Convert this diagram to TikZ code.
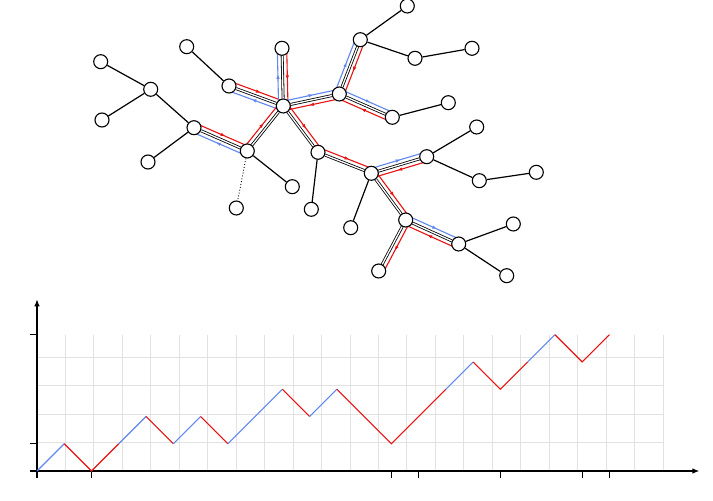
\documentclass[tikz,border=0pt]{standalone}
\usetikzlibrary{calc,arrows.meta,decorations.markings}
\definecolor{wblue}{RGB}{95,135,240}
\definecolor{wred}{RGB}{232,18,18}
\definecolor{gridgray}{RGB}{226,226,226}
\pgfdeclarelayer{bg}
\pgfsetlayers{bg,main}
\tikzset{
  vert/.style={circle,draw=black,fill=white,line width=1.1pt,minimum size=14pt,inner sep=0pt},
  plainedge/.style={draw=black,line width=1.2pt},
  dottededge/.style={draw=black,line width=0.9pt,dotted},
  dbledge/.style={draw=black,line width=0.8pt,double=white,double distance=1.3pt},
  walkline/.style={line width=1.1pt,postaction={decorate},
    decoration={markings,mark=at position 0.55 with {\arrow{Latex[length=4.5pt,width=3.6pt]}}}},
  gridline/.style={draw=gridgray,line width=0.9pt},
  axisline/.style={draw=black,line width=1.2pt},
  ticks/.style={draw=black,line width=1.2pt},
  latline/.style={line width=1.1pt,line join=miter}
}
\newcommand{\walkseg}[3]{\draw[walkline,color=#3] ($(#1.center)!4.7pt!90:(#2.center)$) -- ($(#2.center)!4.7pt!-90:(#1.center)$);}
\begin{document}
\begin{tikzpicture}[x=1pt,y=1pt]
\useasboundingbox (0,0) rectangle (713,501);
% vertices
\node[vert] (A) at (100.7,439.3) {};
\node[vert] (B) at (150.7,411.7) {};
\node[vert] (C) at (102,381) {};
\node[vert] (D) at (194,373.3) {};
\node[vert] (E) at (148,339) {};
\node[vert] (F) at (247.3,350) {};
\node[vert] (G) at (236.3,293) {};
\node[vert] (H) at (292.3,314.3) {};
\node[vert] (I) at (186.7,454.3) {};
\node[vert] (J) at (229,415) {};
\node[vert] (K) at (283.3,395) {};
\node[vert] (L) at (282,452.7) {};
\node[vert] (M) at (318,348.7) {};
\node[vert] (N) at (311.3,291.7) {};
\node[vert] (O) at (339.3,407) {};
\node[vert] (P) at (360.3,461.3) {};
\node[vert] (Q) at (407.3,495) {};
\node[vert] (R) at (415,442.7) {};
\node[vert] (S) at (472,452.7) {};
\node[vert] (T) at (392.3,383.7) {};
\node[vert] (U) at (448.3,398.3) {};
\node[vert] (V) at (371.3,327.7) {};
\node[vert] (W) at (426.7,344.3) {};
\node[vert] (X) at (476.7,374) {};
\node[vert] (Y) at (479.3,320.3) {};
\node[vert] (Z) at (536.3,328.7) {};
\node[vert] (AA) at (350.7,273.3) {};
\node[vert] (BB) at (405.7,281) {};
\node[vert] (CC) at (378.7,230) {};
\node[vert] (DD) at (458.7,257) {};
\node[vert] (EE) at (513.3,277) {};
\node[vert] (FF) at (506.7,225.3) {};
\begin{pgfonlayer}{bg}
% walk lines
\walkseg{J}{K}{wred}
\walkseg{K}{J}{wblue}
\walkseg{D}{F}{wred}
\walkseg{F}{D}{wblue}
\walkseg{F}{K}{wred}
\walkseg{K}{L}{wblue}
\walkseg{L}{K}{wred}
\walkseg{K}{O}{wblue}
\walkseg{O}{K}{wred}
\walkseg{O}{P}{wblue}
\walkseg{P}{O}{wred}
\walkseg{O}{T}{wblue}
\walkseg{T}{O}{wred}
\walkseg{K}{M}{wred}
\walkseg{M}{V}{wred}
\walkseg{V}{W}{wblue}
\walkseg{W}{V}{wred}
\walkseg{V}{BB}{wred}
\walkseg{BB}{DD}{wblue}
\walkseg{DD}{BB}{wred}
\walkseg{BB}{CC}{wred}
% double edges
\foreach \a/\b in {J/K,D/F,F/K,K/L,K/O,O/P,O/T,K/M,M/V,V/W,V/BB,BB/DD,BB/CC}
  \draw[dbledge] (\a) -- (\b);
% plain edges
\foreach \a/\b in {A/B,B/C,B/D,D/E,F/H,I/J,M/N,P/Q,P/R,R/S,T/U,V/AA,W/X,W/Y,Y/Z,DD/EE,DD/FF}
  \draw[plainedge] (\a) -- (\b);
\draw[dottededge] (F) -- (G);
\end{pgfonlayer}
% lattice path chart
\begin{scope}[shift={(37,30)},x=27.26pt,y=27.26pt]
  \draw[gridline] (0,0) grid (23,5);
  \draw[axisline,-{Latex[length=7pt,width=5.5pt]}] (-0.26,0) -- (24.3,0);
  \draw[axisline,-{Latex[length=7pt,width=5.5pt]}] (0,-0.26) -- (0,6.3);
  \foreach \yy in {1,5} \draw[ticks] (-0.26,\yy) -- (0,\yy);
  \foreach \xx in {2,13,14,17,20,21} \draw[ticks] (\xx,0) -- (\xx,-0.26);
  \draw[latline,wblue] (0,0) -- (1,1);
  \draw[latline,wred] (1,1) -- (2,0) -- (3,1);
  \draw[latline,wblue] (3,1) -- (4,2);
  \draw[latline,wred] (4,2) -- (5,1);
  \draw[latline,wblue] (5,1) -- (6,2);
  \draw[latline,wred] (6,2) -- (7,1);
  \draw[latline,wblue] (7,1) -- (9,3);
  \draw[latline,wred] (9,3) -- (10,2);
  \draw[latline,wblue] (10,2) -- (11,3);
  \draw[latline,wred] (11,3) -- (13,1) -- (15,3);
  \draw[latline,wblue] (15,3) -- (16,4);
  \draw[latline,wred] (16,4) -- (17,3) -- (18,4);
  \draw[latline,wblue] (18,4) -- (19,5);
  \draw[latline,wred] (19,5) -- (20,4) -- (21,5);
\end{scope}
\end{tikzpicture}
\end{document}
